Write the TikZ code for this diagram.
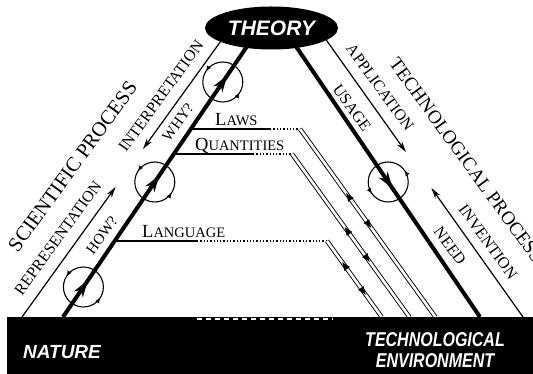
\documentclass[tikz,border=0pt]{standalone}
\usepackage{fontspec}
\setmainfont{Liberation Serif}
\newfontfamily\hv{Liberation Sans}
\newfontfamily\hvn[FakeStretch=0.8]{Liberation Sans}
\usetikzlibrary{arrows.meta,shapes.geometric,decorations.markings}
\newcommand{\sclabel}[2]{{\fontsize{18.5}{18}\selectfont #1}{\fontsize{14.5}{14}\selectfont #2}}
\tikzset{
  bigtip/.tip={Stealth[length=17pt,width=11pt,line width=0pt]},
  smalltip/.tip={Latex[length=8.5pt,width=7pt,line width=0pt]},
  ringtip/.tip={Latex[length=5pt,width=4.5pt,line width=0pt]},
  axis/.style={line width=4pt,postaction=decorate},
  flow/.style={-{Stealth[length=11pt,width=6pt]},line width=1.2pt},
  tag/.style={inner sep=0pt,font=\fontsize{16}{16}\selectfont},
  bigtag/.style={inner sep=0pt,font=\fontsize{20.5}{20}\selectfont},
  term/.style={inner sep=0pt,anchor=base west},
  link/.style={line width=1.4pt},
  relay/.style={line width=1.3pt,dotted},
  channel/.style={double,double distance=2.6pt,line width=0.9pt},
  whirl/.style 2 args={line width=1.1pt,decoration={markings,
    mark=at position #1 with {\arrow{ringtip}},mark=at position #2 with {\arrow{ringtip}}},postaction=decorate},
  twoway/.style 2 args={decoration={markings,
    mark=at position #1 with {\arrowreversed{smalltip}},mark=at position #2 with {\arrow{smalltip}}},postaction=decorate}
}

\begin{document}
\begin{tikzpicture}[x=1pt,y=1pt]
\useasboundingbox (0,0) rectangle (533,374);
\clip (0,0) rectangle (533,374);
\coordinate (nl) at (63,57);
\coordinate (nr) at (480,57);
\coordinate (apex) at (271.5,363.6);
\coordinate (sl) at (22,57);
\coordinate (rep) at (115.6,187);
\coordinate (itop) at (226,340);
\coordinate (int) at (143,225);
\coordinate (atop) at (322,340);
\coordinate (app) at (405.9,222);
\coordinate (tr) at (523,57);
\coordinate (inv) at (431.4,186);
\coordinate (c1) at (83.4,87);
\coordinate (c2) at (154.8,192);
\coordinate (c3) at (222.8,292);
\coordinate (c4) at (388.2,192);
\coordinate (la1) at (190.8,245); \coordinate (la2) at (270,245);
\coordinate (la3) at (300,245);   \coordinate (la4) at (435.4,57);
\coordinate (qu1) at (173.8,220); \coordinate (qu2) at (253,220);
\coordinate (qu3) at (292,220);   \coordinate (qu4) at (409.4,57);
\coordinate (lg1) at (114.7,133); \coordinate (lg2) at (197,133);
\coordinate (lg3) at (327,133);   \coordinate (lg4) at (381.7,57);

\draw[axis,decoration={markings,mark=at position .119 with {\arrow{bigtip}},
  mark=at position .462 with {\arrow{bigtip}},mark=at position .788 with {\arrow{bigtip}}}] (nl) -- (apex);
\draw[axis,decoration={markings,mark=at position .581 with {\arrow{bigtip}}}] (apex) -- (nr);
\draw[flow] (sl) -- (rep);
\draw[flow] (itop) -- (int);
\draw[flow] (atop) -- (app);
\draw[flow] (tr) -- (inv);
\draw[whirl={.406}{.906}] (c1) circle (20);
\draw[whirl={.406}{.906}] (c2) circle (20);
\draw[whirl={.406}{.906}] (c3) circle (20);
\draw[whirl={.094}{.594}] (c4) circle (20);

\draw[link] (la1) -- (la2); \draw[relay] (la2) -- (la3);
\draw[channel] (la3) -- (la4); \path[twoway={.34}{.527}] (la3) -- (la4);
\draw[link] (qu1) -- (qu2); \draw[relay] (qu2) -- (qu3);
\draw[channel] (qu3) -- (qu4); \path[twoway={.448}{.663}] (qu3) -- (qu4);
\draw[link] (lg1) -- (lg2); \draw[relay] (lg2) -- (lg3);
\draw[channel] (lg3) -- (lg4); \path[twoway={.276}{.71}] (lg3) -- (lg4);

\node[term] (laws) at (215,248) {\sclabel{L}{AWS}};
\node[term] (qty) at (195,223.5) {\sclabel{Q}{UANTITIES}};
\node[term] (lang) at (142,136.5) {\sclabel{L}{ANGUAGE}};

\node[ellipse,fill=black,minimum width=133pt,minimum height=43pt,inner sep=0pt,text=white,
  font=\hv\bfseries\itshape\fontsize{21}{21}\selectfont] (theory) at (271.5,346) {THEORY};
\node[fill=black,minimum width=526pt,minimum height=57pt,inner sep=0pt,anchor=south west] (ground) at (7,0) {};
\draw[white,line width=2pt,dash pattern=on 5pt off 4pt] (197,55) -- (333,55);
\node[text=white,font=\hv\bfseries\itshape\fontsize{19}{19}\selectfont] (nat) at (62,21.5) {NATURE};
\node[text=white,align=center,font=\hvn\bfseries\itshape\fontsize{20}{21}\selectfont] (env) at (435,24) {TECHNOLOGICAL\\ENVIRONMENT};

\node[bigtag,rotate=54] (sci) at (72.5,207.5) {SCIENTIFIC PROCESS};
\node[bigtag,rotate=-54,anchor=west,font=\fontsize{19}{19}\selectfont] (tec) at (393.5,314) {TECHNOLOGICAL PROCESS};
\node[tag,rotate=54] (repl) at (58,136) {REPRESENTATION};
\node[tag,rotate=54,font=\fontsize{15}{15}\selectfont] (how) at (102,139) {HOW?};
\node[tag,rotate=54] (intl) at (161,278) {INTERPRETATION};
\node[tag,rotate=54,font=\fontsize{15}{15}\selectfont] (why) at (178,252) {WHY?};
\node[tag,rotate=-54] (appl) at (380,286.5) {APPLICATION};
\node[tag,rotate=-54] (use) at (352,266) {USAGE};
\node[tag,rotate=-54] (invl) at (488,132) {INVENTION};
\node[tag,rotate=-54] (need) at (450,128) {NEED};
\end{tikzpicture}
\end{document}
